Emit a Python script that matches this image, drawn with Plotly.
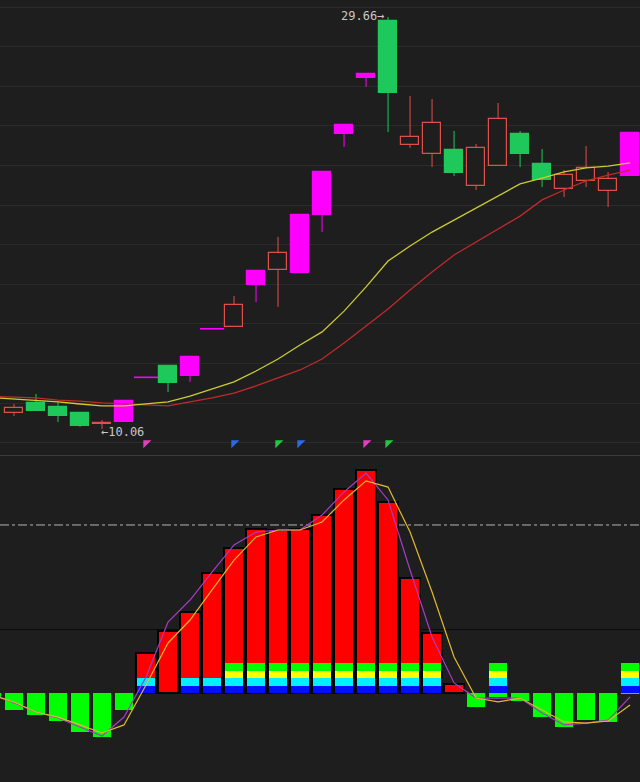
import plotly.graph_objects as go

# ---------------- data ----------------
# candles (index 0..28)
idx = list(range(29))
open_ = [10.82, 11.30, 11.11, 10.82, 10.30, 10.39, 12.52, 13.06, 12.58, 14.83,
         14.91, 16.91, 17.63, 17.48, 20.24, 24.10, 26.76, 29.47, 23.57, 23.14,
         23.33, 21.62, 22.57, 24.10, 22.67, 21.48, 21.86, 21.38, 22.10]
high = [11.25, 11.73, 11.35, 10.87, 10.49, 11.38, 12.52, 13.06, 13.48, 14.83,
        16.39, 17.58, 19.20, 20.26, 22.28, 24.51, 26.96, 29.66, 25.90, 25.76,
        24.24, 23.62, 25.57, 24.24, 23.38, 22.38, 23.52, 22.29, 24.14]
low = [10.68, 10.92, 10.39, 10.16, 10.06, 10.39, 12.52, 11.82, 12.30, 14.83,
       14.91, 16.10, 15.87, 17.48, 19.43, 23.48, 26.33, 24.19, 23.43, 22.52,
       22.10, 21.43, 22.57, 22.52, 21.57, 21.10, 21.57, 20.62, 22.10]
close = [11.06, 10.92, 10.68, 10.20, 10.35, 11.38, 12.52, 12.25, 13.48, 14.83,
         15.98, 17.58, 18.42, 20.26, 22.28, 24.51, 26.96, 26.05, 23.95, 24.62,
         22.24, 23.43, 24.81, 23.14, 21.91, 22.14, 22.48, 21.95, 24.14]

# moving averages (index -1..28)
ma_x = list(range(-1, 29))
ma_yellow = [11.56, 11.49, 11.44, 11.35, 11.25, 11.16, 11.16, 11.25, 11.35, 11.63,
             11.96, 12.30, 12.82, 13.39, 14.06, 14.68, 15.67, 16.82, 18.05, 18.77,
             19.43, 20.00, 20.57, 21.15, 21.72, 22.00, 22.29, 22.48, 22.57, 22.72]
ma_red = [11.61, 11.58, 11.54, 11.44, 11.39, 11.30, 11.25, 11.20, 11.16, 11.35,
          11.54, 11.77, 12.11, 12.49, 12.87, 13.39, 14.15, 14.96, 15.77, 16.67,
          17.53, 18.34, 18.96, 19.58, 20.19, 20.96, 21.43, 21.86, 22.14, 22.38]

# signal flags under the price panel
flag_idx = [6, 10, 12, 13, 16, 17]
flag_kind = ["m", "b", "g", "b", "m", "g"]

# lower indicator (index -1..28)
ind_x = list(range(-1, 29))
hist = [-2.1, -9.1, -11.8, -15.0, -20.9, -23.6, -9.1, 21.4, 33.2, 43.4,
        64.3, 77.7, 87.8, 87.3, 87.8, 95.3, 109.3, 119.4, 102.3, 61.6,
        32.1, 4.8, -7.5, -2.1, -4.3, -12.9, -18.2, -14.5, -15.5, -0.5]
band_level = [0, 0, 0, 0, 0, 0, 0, 2, 0, 2,
              2, 4, 4, 4, 4, 4, 4, 4, 4, 4,
              4, 0, 0, 4, 0, 0, 0, 0, 0, 4]
line_purple = [-0.5, -5.4, -10.2, -13.4, -18.2, -23.0, -12.9, 8.6, 38.0, 49.8,
               64.8, 79.3, 86.2, 87.3, 87.3, 95.3, 107.7, 117.8, 103.4, 65.9,
               30.0, 5.4, -2.7, -2.7, -2.7, -10.7, -17.1, -16.1, -14.5, -2.1]
line_yellow = [-1.1, -4.8, -10.2, -12.9, -17.1, -21.4, -17.1, 4.3, 26.8, 39.1,
               55.2, 71.2, 83.6, 87.3, 87.3, 91.6, 103.4, 113.6, 110.3, 86.2,
               54.1, 19.3, -2.7, -4.8, -2.7, -9.1, -15.5, -16.1, -15.0, -6.4]
upper_level = 90
lower_level = 34
band_step = 4

# ---------------- style ----------------
W, H = 640, 782
BG = "#1e1e1e"
RED = "#e0504a"
GREEN = "#1ec85a"
MAG = "#ff00ff"
BODY_W = 0.818
X_RANGE = [-0.636, 28.45]
UP_DOMAIN = [1 - 455 / 782, 1]
LO_DOMAIN = [0, 1 - 456 / 782]
UP_RANGE = [8.825, 30.469]
LO_RANGE = [-47.67, 126.94]
FLAG_Y = 9.40
flag_colors = {"m": "#e040c0", "b": "#2a6ae8", "g": "#22c840"}
band_colors = ["#0010ff", "#00f0ff", "#ffff00", "#00ff00"]

fig = go.Figure()

# classify candles
kind = []
for i in idx:
    if open_[i] == high[i] == low[i] == close[i]:
        kind.append("flat")
    elif i > 0 and close[i] >= close[i - 1] * 1.095:
        kind.append("limit")
    elif close[i] >= open_[i]:
        kind.append("up")
    else:
        kind.append("down")

def wicks(sel):
    xs, ys = [], []
    for i in sel:
        top = max(open_[i], close[i]); bot = min(open_[i], close[i])
        if high[i] > top:
            xs += [i, i, None]; ys += [top, high[i], None]
        if low[i] < bot:
            xs += [i, i, None]; ys += [low[i], bot, None]
    return xs, ys

styles = {
    "up": dict(fill=BG, line=RED, wick=RED),
    "down": dict(fill=GREEN, line=GREEN, wick=GREEN),
    "limit": dict(fill=MAG, line=MAG, wick=MAG),
}
for k, st in styles.items():
    sel = [i for i in idx if kind[i] == k]
    wx, wy = wicks(sel)
    fig.add_trace(go.Scatter(x=wx, y=wy, mode="lines", line=dict(color=st["wick"], width=1),
                             hoverinfo="skip", showlegend=False, xaxis="x", yaxis="y"))
    fig.add_trace(go.Bar(x=sel, y=[max(abs(close[i] - open_[i]), 0.02) for i in sel],
                         base=[min(open_[i], close[i]) for i in sel], width=BODY_W,
                         marker=dict(color=st["fill"], line=dict(color=st["line"], width=1.2)),
                         hoverinfo="skip", showlegend=False, xaxis="x", yaxis="y"))

# one-price (flat) limit candles
fx, fy = [], []
for i in idx:
    if kind[i] == "flat":
        fx += [i - 0.55, i + 0.55, None]; fy += [close[i], close[i], None]
fig.add_trace(go.Scatter(x=fx, y=fy, mode="lines", line=dict(color=MAG, width=1.6),
                         hoverinfo="skip", showlegend=False, xaxis="x", yaxis="y"))

# moving averages
fig.add_trace(go.Scatter(x=ma_x, y=ma_red, mode="lines", line=dict(color="#c02a2a", width=1.3),
                         hoverinfo="skip", showlegend=False, xaxis="x", yaxis="y"))
fig.add_trace(go.Scatter(x=ma_x, y=ma_yellow, mode="lines", line=dict(color="#cccc30", width=1.3),
                         hoverinfo="skip", showlegend=False, xaxis="x", yaxis="y"))

# flags
fig.add_trace(go.Scatter(x=flag_idx, y=[FLAG_Y] * len(flag_idx), mode="markers",
                         marker=dict(symbol="triangle-nw", size=9,
                                     color=[flag_colors[k] for k in flag_kind]),
                         hoverinfo="skip", showlegend=False, xaxis="x", yaxis="y"))

# high / low labels
hi_i = max(idx, key=lambda i: high[i])
lo_i = min(idx, key=lambda i: low[i])
fig.add_annotation(x=hi_i, y=high[hi_i], xref="x", yref="y", text=f"{high[hi_i]:.2f}→",
                   showarrow=False, xanchor="right", yanchor="middle", xshift=-2, yshift=1,
                   font=dict(family="DejaVu Sans Mono", size=12, color="#c8c8c8"))
fig.add_annotation(x=lo_i, y=low[lo_i], xref="x", yref="y", text=f"←{low[lo_i]:.2f}",
                   showarrow=False, xanchor="left", yanchor="middle", xshift=-3, yshift=-3,
                   font=dict(family="DejaVu Sans Mono", size=12, color="#c8c8c8"))

# ---------------- lower panel ----------------
pos_x = [x for x, v in zip(ind_x, hist) if v > 0]
pos_v = [v for v in hist if v > 0]
neg_x = [x for x, v in zip(ind_x, hist) if v <= 0]
neg_v = [v for v in hist if v <= 0]
fig.add_trace(go.Bar(x=pos_x, y=pos_v, width=20 / 22,
                     marker=dict(color="#ff0000", line=dict(color="#050505", width=2)),
                     hoverinfo="skip", showlegend=False, xaxis="x2", yaxis="y2"))
fig.add_trace(go.Bar(x=neg_x, y=neg_v, width=BODY_W,
                     marker=dict(color="#00ff00", line=dict(width=0)),
                     hoverinfo="skip", showlegend=False, xaxis="x2", yaxis="y2"))
for lvl in range(4):
    sel = [x for x, b in zip(ind_x, band_level) if b > lvl]
    fig.add_trace(go.Bar(x=sel, y=[band_step] * len(sel), base=[band_step * lvl] * len(sel),
                         width=BODY_W, marker=dict(color=band_colors[lvl], line=dict(width=0)),
                         hoverinfo="skip", showlegend=False, xaxis="x2", yaxis="y2"))
fig.add_trace(go.Scatter(x=ind_x, y=line_purple, mode="lines", line=dict(color="#a83cc8", width=1.2),
                         hoverinfo="skip", showlegend=False, xaxis="x2", yaxis="y2"))
fig.add_trace(go.Scatter(x=ind_x, y=line_yellow, mode="lines", line=dict(color="#e4b830", width=1.2),
                         hoverinfo="skip", showlegend=False, xaxis="x2", yaxis="y2"))

shapes = [
    dict(type="line", xref="paper", yref="paper", x0=0, x1=1,
         y0=1 - 455.5 / 782, y1=1 - 455.5 / 782, line=dict(color="#3a3a3a", width=1)),
    dict(type="line", xref="paper", yref="y2", x0=0, x1=1, y0=upper_level, y1=upper_level,
         line=dict(color="#b4b4b4", width=1, dash="dashdot"), layer="below"),
    dict(type="line", xref="paper", yref="y2", x0=0, x1=1, y0=lower_level, y1=lower_level,
         line=dict(color="#0c0c0c", width=1), layer="below"),
]

axis_common = dict(showticklabels=False, ticks="", zeroline=False, showline=False,
                   fixedrange=True)
fig.update_layout(
    width=W, height=H, margin=dict(l=0, r=0, t=0, b=0),
    paper_bgcolor=BG, plot_bgcolor=BG, barmode="overlay", bargap=0,
    showlegend=False, shapes=shapes,
    xaxis=dict(domain=[0, 1], range=X_RANGE, anchor="y", showgrid=False, **axis_common),
    yaxis=dict(domain=UP_DOMAIN, range=UP_RANGE, anchor="x", showgrid=True,
               gridcolor="#2b2b2b", gridwidth=1, tickmode="linear", tick0=30.136,
               dtick=1.8838, **axis_common),
    xaxis2=dict(domain=[0, 1], range=X_RANGE, anchor="y2", showgrid=False, **axis_common),
    yaxis2=dict(domain=LO_DOMAIN, range=LO_RANGE, anchor="x2", showgrid=False, **axis_common),
)

fig.write_html("out.html", config={"displayModeBar": False},
               post_script="document.body.style.margin='0';document.body.style.background='%s';" % BG)
